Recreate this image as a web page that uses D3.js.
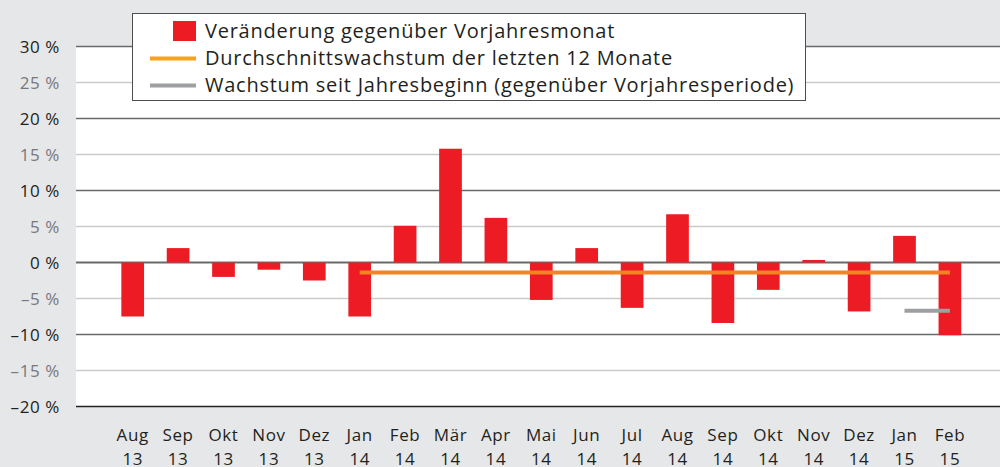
<!DOCTYPE html>
<html>
<head>
<meta charset="utf-8">
<script src="https://cdn.jsdelivr.net/npm/d3@7"></script>
<style>
  body { margin: 0; background: #e6e7e8; }
  svg { display: block; font-family: "Open Sans", "Noto Sans", sans-serif; }
</style>
</head>
<body>
<div id="chart"></div>
<script>
// Data
const months = ["Aug", "Sep", "Okt", "Nov", "Dez", "Jan", "Feb", "Mär", "Apr", "Mai",
  "Jun", "Jul", "Aug", "Sep", "Okt", "Nov", "Dez", "Jan", "Feb"];
const years = ["13", "13", "13", "13", "13", "14", "14", "14", "14", "14",
  "14", "14", "14", "14", "14", "14", "14", "15", "15"];
const yoyChange = [-7.5, 2.0, -2.0, -1.0, -2.5, -7.5, 5.1, 15.8, 6.2, -5.2,
  2.0, -6.3, 6.7, -8.4, -3.8, 0.35, -6.8, 3.7, -10.1];
// average growth over last 12 months, from Jan 14 to Feb 15
const avg12Start = 5;
const avg12 = [-1.4, -1.4, -1.4, -1.4, -1.4, -1.4, -1.4, -1.4, -1.4, -1.4, -1.4, -1.4, -1.4, -1.4];
// growth since start of year, Jan 15 to Feb 15
const ytdStart = 17;
const ytd = [-6.7, -6.7];
const yTicks = [30, 25, 20, 15, 10, 5, 0, -5, -10, -15, -20];
const legendLabels = [
  "Veränderung gegenüber Vorjahresmonat",
  "Durchschnittswachstum der letzten 12 Monate",
  "Wachstum seit Jahresbeginn (gegenüber Vorjahresperiode)"
];

const width = 1000, height = 467;
const plot = { left: 76, right: 1000, top: 46.5, bottom: 406.5 };

const keys = months.map((m, i) => i);

const svg = d3.select("#chart")
  .append("svg")
  .attr("width", width)
  .attr("height", height)
  .style("background", "#e6e7e8");

const x = d3.scaleBand()
  .domain(keys)
  .range([110, 972.6])
  .paddingInner(0.5)
  .paddingOuter(0.25);

const y = d3.scaleLinear()
  .domain([-20, 30])
  .range([plot.bottom, plot.top]);

// plot area
svg.append("rect")
  .attr("x", plot.left)
  .attr("y", plot.top)
  .attr("width", plot.right - plot.left)
  .attr("height", plot.bottom - plot.top)
  .attr("fill", "#ffffff");

// gridlines
svg.append("g")
  .selectAll("line")
  .data(yTicks)
  .enter()
  .append("line")
  .attr("x1", plot.left)
  .attr("x2", plot.right)
  .attr("y1", d => y(d))
  .attr("y2", d => y(d))
  .attr("stroke", d => d === -20 ? "#222222" : (d % 10 === 0 ? "#6a6a6a" : "#cbcbcb"))
  .attr("stroke-width", d => d === 0 ? 2 : 1.5);

// y labels
svg.append("g")
  .selectAll("text")
  .data(yTicks)
  .enter()
  .append("text")
  .attr("x", 60)
  .attr("y", d => y(d))
  .attr("dy", "0.36em")
  .attr("text-anchor", "end")
  .style("font-size", "17px")
  .style("letter-spacing", "0.6px")
  .attr("fill", d => d % 10 === 0 ? "#231f20" : "#77787b")
  .text(d => (d < 0 ? "–" + Math.abs(d) : d) + " %");

// bars
svg.append("g")
  .selectAll("rect")
  .data(yoyChange)
  .enter()
  .append("rect")
  .attr("x", (d, i) => x(i))
  .attr("width", x.bandwidth())
  .attr("y", d => y(Math.max(0, d)))
  .attr("height", d => Math.abs(y(d) - y(0)))
  .attr("fill", "#ed1c24");

const line = d3.line()
  .x(d => x(d.i) + x.bandwidth() / 2)
  .y(d => y(d.v));

svg.append("path")
  .datum(avg12.map((v, j) => ({ i: avg12Start + j, v: v })))
  .attr("d", line)
  .attr("fill", "none")
  .attr("stroke", "#f3841f")
  .attr("stroke-width", 4);

svg.append("path")
  .datum(ytd.map((v, j) => ({ i: ytdStart + j, v: v })))
  .attr("d", line)
  .attr("fill", "none")
  .attr("stroke", "#9d9fa2")
  .attr("stroke-width", 4);

// x labels
const xl = svg.append("g");
months.forEach((m, i) => {
  const cx = x(i) + x.bandwidth() / 2;
  xl.append("text")
    .attr("x", cx)
    .attr("y", 441)
    .attr("text-anchor", "middle")
    .style("font-size", "17px")
    .style("letter-spacing", "0.6px")
    .attr("fill", "#231f20")
    .text(m);
  xl.append("text")
    .attr("x", cx)
    .attr("y", 465)
    .attr("text-anchor", "middle")
    .style("font-size", "17px")
    .style("letter-spacing", "0.6px")
    .attr("fill", "#231f20")
    .text(years[i]);
});

// legend
const legend = svg.append("g");
legend.append("rect")
  .attr("x", 132.5)
  .attr("y", 13.5)
  .attr("width", 673)
  .attr("height", 87)
  .attr("fill", "#ffffff")
  .attr("stroke", "#4d4d4f")
  .attr("stroke-width", 1);

legend.append("rect")
  .attr("x", 173)
  .attr("y", 21)
  .attr("width", 23)
  .attr("height", 20)
  .attr("fill", "#ed1c24");

legend.append("line")
  .attr("x1", 150).attr("x2", 196)
  .attr("y1", 58.5).attr("y2", 58.5)
  .attr("stroke", "#f8a21c")
  .attr("stroke-width", 4);

legend.append("line")
  .attr("x1", 150).attr("x2", 196)
  .attr("y1", 85.5).attr("y2", 85.5)
  .attr("stroke", "#9d9fa2")
  .attr("stroke-width", 4);

legendLabels.forEach((t, i) => {
  legend.append("text")
    .attr("x", 205)
    .attr("y", 31 + i * 27)
    .attr("dy", "0.36em")
    .style("font-size", "20px")
    .style("letter-spacing", "0.75px")
    .attr("fill", "#231f20")
    .text(t);
});
</script>
</body>
</html>
